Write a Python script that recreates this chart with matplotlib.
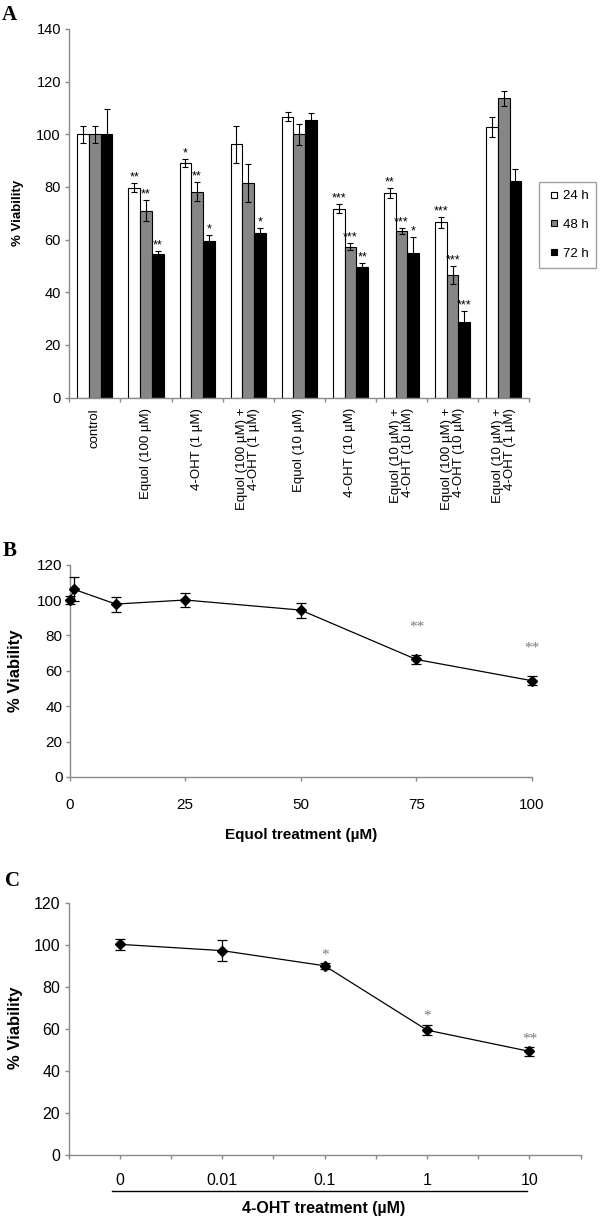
import numpy as np
import matplotlib
matplotlib.use("Agg")
import matplotlib.pyplot as plt
from matplotlib.lines import Line2D

plt.rcParams['font.family'] = ['Liberation Sans', 'DejaVu Sans']

# panel A: viability per treatment, 24/48/72 h
groups = ['control', 'Equol (100 µM)', '4-OHT (1 µM)', 'Equol (100 µM) +\n4-OHT (1 µM)',
          'Equol (10 µM)', '4-OHT (10 µM)', 'Equol (10 µM) +\n4-OHT (10 µM)',
          'Equol (100 µM) +\n4-OHT (10 µM)', 'Equol (10 µM) +\n4-OHT (1 µM)']
hours = ['24 h', '48 h', '72 h']
v24 = [100, 79.7, 89.1, 96.2, 106.7, 71.8, 77.7, 66.5, 102.7]
e24 = [3.3, 1.7, 1.5, 7.0, 1.7, 1.6, 1.8, 2.2, 3.8]
v48 = [100, 71.0, 78.2, 81.5, 100, 57.3, 63.3, 46.7, 113.7]
e48 = [3.3, 4.0, 3.7, 7.3, 3.9, 1.4, 1.1, 3.4, 2.9]
v72 = [100, 54.6, 59.6, 62.5, 105.4, 49.6, 54.8, 28.7, 82.3]
e72 = [9.7, 1.0, 2.3, 1.9, 2.6, 1.5, 6.2, 4.1, 4.5]
sig24 = ['', '**', '*', '', '', '***', '**', '***', '']
sig48 = ['', '**', '**', '', '', '***', '***', '***', '']
sig72 = ['', '**', '*', '*', '', '**', '*', '***', '']

# panel B: equol dose
b_dose = [0, 1, 10, 25, 50, 75, 100]
b_via = [100, 106.0, 97.7, 100, 94.3, 66.4, 54.4]
b_err = [2.3, 6.8, 4.2, 4.0, 4.2, 2.5, 2.6]
b_sig = ['', '', '', '', '', '**', '**']

# panel C: 4-OHT dose
c_dose = ['0', '0.01', '0.1', '1', '10']
c_via = [100.2, 97.2, 90.0, 59.4, 49.3]
c_err = [2.5, 5.0, 1.3, 2.5, 2.0]
c_sig = ['', '', '*', '*', '**']

W, H = 600, 1219
fig = plt.figure(figsize=(W / 100, H / 100), dpi=100)

def box(l, t, r, b):
    return [l / W, 1 - b / H, (r - l) / W, (b - t) / H]

def px(x, y):
    return x / W, 1 - y / H

AXIS = '#8a8a8a'
GRAY = '#868686'

def style(ax):
    for s in ('top', 'right'):
        ax.spines[s].set_visible(False)
    for s in ('left', 'bottom'):
        ax.spines[s].set_color(AXIS)
        ax.spines[s].set_linewidth(1.0)
    ax.tick_params(which='both', colors=AXIS, labelcolor='black', direction='out', width=1.0, length=3)

# ---- A ----
axA = fig.add_axes(box(69.3, 29, 529.3, 397.5))
style(axA)
x = np.arange(len(groups))
bw = 0.229
series = [(v24, e24, sig24, 'white'), (v48, e48, sig48, GRAY), (v72, e72, sig72, 'black')]
for k, (v, e, s, c) in enumerate(series):
    xs = x + (k - 1) * bw
    axA.bar(xs, v, bw, color=c, edgecolor='black', linewidth=0.8, yerr=e, label=hours[k],
            error_kw=dict(ecolor='black', elinewidth=0.8, capsize=2.2, capthick=0.8), zorder=2)
    for xi, vi, ei, si in zip(xs, v, e, s):
        if si:
            axA.text(xi, vi + ei + 1.0, si, ha='center', va='baseline', fontsize=9)
axA.set_xlim(-0.5, len(groups) - 0.5)
axA.set_ylim(0, 140)
axA.set_yticks(range(0, 141, 20))
axA.set_xticks(x)
axA.set_xticklabels(groups, rotation=90, va='top', ha='center', fontsize=9.5,
                    linespacing=1.0, multialignment='right')
axA.set_xticks(np.arange(-0.5, len(groups), 1), minor=True)
axA.tick_params(axis='x', which='major', length=0, pad=7.5)
axA.tick_params(axis='y', labelsize=10.5, pad=3)

handles = [Line2D([], [], ls='none', marker='s', ms=5, mfc=c, mec='black', mew=0.8)
           for c in ('white', GRAY, 'black')]
leg = fig.legend(handles, hours, loc='upper left', bbox_to_anchor=px(539, 182),
                 bbox_transform=fig.transFigure, borderaxespad=0, fancybox=False,
                 edgecolor=AXIS, fontsize=9.5, labelspacing=1.25, borderpad=0.6,
                 handlelength=1.0, handletextpad=0.2)
leg.get_frame().set_linewidth(1.0)

# ---- B ----
axB = fig.add_axes(box(69.5, 564.6, 532, 777))
style(axB)
eb = axB.errorbar(b_dose, b_via, yerr=b_err, color='black', lw=0.9, marker='D', ms=5.5,
                  ecolor='black', elinewidth=0.9, capsize=3.5, capthick=0.9, zorder=3)
for a in eb.get_children():
    a.set_clip_on(False)
for xi, vi, ei, si in zip(b_dose, b_via, b_err, b_sig):
    if si:
        axB.text(xi, vi + ei + 13.6, si, ha='center', va='baseline', fontsize=11,
                 family='Liberation Serif', color='#7a7a7a')
axB.set_xlim(0, 100)
axB.set_ylim(0, 120)
axB.set_xticks([0, 25, 50, 75, 100])
axB.set_yticks(range(0, 121, 20))
axB.tick_params(axis='x', labelsize=11, pad=12)
axB.tick_params(axis='y', labelsize=11, pad=2)

# ---- C ----
axC = fig.add_axes(box(68.7, 902.7, 580.6, 1155))
style(axC)
cx = np.arange(len(c_dose))
eb = axC.errorbar(cx, c_via, yerr=c_err, color='black', lw=0.9, marker='D', ms=5.5,
                  ecolor='black', elinewidth=0.9, capsize=3.5, capthick=0.9, zorder=3)
for xi, vi, ei, si in zip(cx, c_via, c_err, c_sig):
    if si:
        axC.text(xi, vi + ei + 2.3, si, ha='center', va='baseline', fontsize=11,
                 family='Liberation Serif', color='#7a7a7a')
axC.set_xlim(-0.5, len(c_dose) - 0.5)
axC.set_ylim(0, 120)
axC.set_xticks(cx)
axC.set_xticklabels(c_dose)
axC.set_xticks(np.arange(-0.5, len(c_dose), 1), minor=True)
axC.set_yticks(range(0, 121, 20))
axC.tick_params(axis='x', labelsize=11.5, pad=10)
axC.tick_params(axis='y', labelsize=11.5, pad=3)

x0, y0 = px(112, 1191)
x1, _ = px(527, 1191)
fig.add_artist(Line2D([x0, x1], [y0, y0], color='black', lw=1.0, transform=fig.transFigure))

# ---- labels ----
fig.text(*px(18.5, 213), '% Viability', rotation=90, ha='center', va='center', fontsize=9.5, fontweight='bold')
fig.text(*px(16, 671), '% Viability', rotation=90, ha='center', va='center', fontsize=12, fontweight='bold')
fig.text(*px(15.5, 1028), '% Viability', rotation=90, ha='center', va='center', fontsize=12, fontweight='bold')
fig.text(*px(301, 835), 'Equol treatment (µM)', ha='center', va='center', fontsize=11, fontweight='bold')
fig.text(*px(324, 1209), '4-OHT treatment (µM)', ha='center', va='center', fontsize=11.5, fontweight='bold')
for lab, (lx, ly) in zip('ABC', [(9, 15), (10, 551), (12, 881)]):
    fig.text(*px(lx, ly), lab, ha='center', va='center', fontsize=15, fontweight='bold',
             family='Liberation Serif')

fig.savefig('out.png', dpi=100)
